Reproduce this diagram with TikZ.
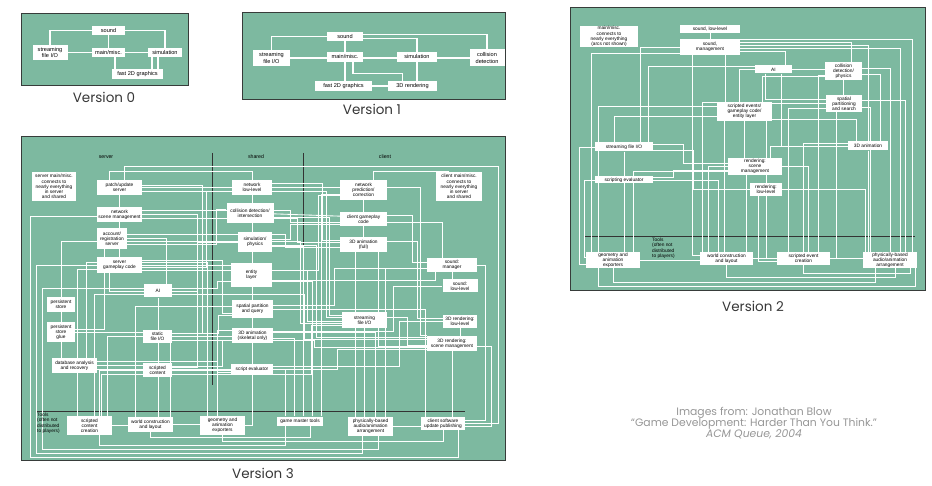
\documentclass[tikz,border=0pt]{standalone}
\usepackage{fontspec}
\setmainfont{Poppins}
\newfontfamily\boxfam{Liberation Sans}
\usetikzlibrary{positioning}

\definecolor{panelgreen}{RGB}{125,185,160}
\definecolor{panelrim}{RGB}{55,60,58}
\definecolor{captiongray}{RGB}{55,55,55}
\definecolor{creditgray}{RGB}{150,150,150}

\pgfdeclarelayer{back}
\pgfdeclarelayer{wires}
\pgfsetlayers{back,wires,main}

\tikzset{
    panel/.style={draw=panelrim, fill=panelgreen, line width=0.9pt},
    box/.style={fill=white, inner sep=0.3pt, align=center, font=\boxfam\fontsize{4.8}{5.2}\selectfont},
    bigbox/.style={box, font=\boxfam\fontsize{5.6}{6.3}\selectfont},
    sz/.style 2 args={minimum width=#1, minimum height=#2},
    wire/.style={draw=white, line width=0.85pt},
    thickwire/.style={draw=white, line width=1.1pt},
    divider/.style={draw=black!80, line width=0.7pt},
    colhead/.style={font=\boxfam\fontsize{5.2}{6}\selectfont},
    toolsnote/.style={anchor=north west, align=left, inner sep=0pt, font=\boxfam\fontsize{4.8}{5.2}\selectfont},
    caption/.style={font=\fontsize{13.5}{15}\selectfont, text=captiongray},
    credit/.style={font=\fontsize{10.8}{12}\selectfont, text=creditgray},
}

\begin{document}
\begin{tikzpicture}[x=1pt, y=-1pt]
\useasboundingbox (0,0) rectangle (932,486);

% panels
\begin{pgfonlayer}{back}
\draw[panel] (21,13) rectangle (188,85);
\draw[panel] (242,12) rectangle (505,99);
\draw[panel] (570,7) rectangle (925,290);
\draw[panel] (21,136) rectangle (505,460);
\draw[divider] (585,236) -- (915,236);
\draw[divider] (212,153) -- (212,385);
\draw[divider] (303,153) -- (303,385);
\draw[divider] (37,411) -- (465,411);
\end{pgfonlayer}

% version 0
\node[bigbox, sz={33}{9}] (v0snd) at (108.5,30.5) {sound};
\node[bigbox, sz={35}{15}] (v0str) at (50,52.5) {streaming\\file I/O};
\node[bigbox, sz={33}{9}] (v0main) at (108.5,52.5) {main/misc.};
\node[bigbox, sz={34}{9}] (v0sim) at (165,52.5) {simulation};
\node[bigbox, sz={51}{10}] (v0gfx) at (137.5,74) {fast 2D graphics};

% version 1
\node[bigbox, sz={36}{9}] (v1snd) at (345,36.5) {sound};
\node[bigbox, sz={37}{16}] (v1str) at (271.5,58) {streaming\\file I/O};
\node[bigbox, sz={36}{10}] (v1main) at (345,57) {main/misc.};
\node[bigbox, sz={40}{10}] (v1sim) at (417,57) {simulation};
\node[bigbox, sz={35}{17}] (v1col) at (487,58) {collision\\detection};
\node[bigbox, sz={57}{10}] (v1gfx) at (343.5,86) {fast 2D graphics};
\node[bigbox, sz={49}{10}] (v1ren) at (412.5,86) {3D rendering};

% version 2
\node[box, sz={58}{21}] (v2note) at (609,36.5) {main/misc.\\connects to\\nearly everything\\(arcs not shown)};
\node[box, sz={60}{8}] (v2sndll) at (710,29) {sound, low-level};
\node[box, sz={60}{16}] (v2sndmg) at (710,47) {sound,\\management};
\node[box, sz={37}{8}] (v2ai) at (773.5,69.5) {AI};
\node[box, sz={37}{18}] (v2col) at (843.5,71) {collision\\detection/\\physics};
\node[box, sz={36}{17}] (v2spat) at (844,103.5) {spatial\\partitioning\\and search};
\node[box, sz={55}{19}] (v2ent) at (744.5,111.5) {scripted events/\\gameplay code/\\entity layer};
\node[box, sz={58}{9}] (v2str) at (624,147) {streaming file I/O};
\node[box, sz={40}{9}] (v2anim) at (868,146) {3D animation};
\node[box, sz={54}{17}] (v2rsc) at (755,166.5) {rendering:\\scene\\management};
\node[box, sz={32}{13}] (v2rll) at (766,189.5) {rendering:\\low-level};
\node[box, sz={58}{7}] (v2scr) at (624,180) {scripting evaluator};
\node[box, sz={54}{16}] (v2geo) at (613,260) {geometry and\\animation\\exporters};
\node[box, sz={53}{13}] (v2wld) at (726.5,258.5) {world construction\\and layout};
\node[box, sz={53}{13}] (v2sev) at (803.5,258.5) {scripted event\\creation};
\node[box, sz={54}{16}] (v2phy) at (890,260) {physically-based\\audio/animation\\arrangement};
\node[toolsnote] (v2tools) at (652,238) {Tools\\(often not\\distributed\\to players)};

% version 3
\node[colhead] (s3hserv) at (106,157) {server};
\node[colhead] (s3hshar) at (256,157) {shared};
\node[colhead] (s3hcli) at (385,157) {client};
\node[box, sz={44}{29}] (s3smain) at (54,186.5) {server main/misc.\\connects to\\nearly everything\\in server\\and shared};
\node[box, sz={45}{15}] (s3patch) at (119.5,187.5) {patch/update\\server};
\node[box, sz={45}{15}] (s3nsm) at (119.5,214.5) {network\\scene management};
\node[box, sz={30}{21}] (s3acct) at (112,238.5) {account/\\registration\\server};
\node[box, sz={45}{16}] (s3sgp) at (119.5,265) {server\\gameplay code};
\node[box, sz={28}{13}] (s3ai) at (158,291) {AI};
\node[box, sz={28}{15}] (s3ps) at (61,304.5) {persistent\\store};
\node[box, sz={28}{20}] (s3psg) at (61,332) {persistent\\store\\glue};
\node[box, sz={45}{15}] (s3db) at (74.5,365.5) {database analysis\\and recovery};
\node[box, sz={29}{13}] (s3sfio) at (157.5,336.5) {static\\file I/O};
\node[box, sz={29}{14}] (s3sc) at (157.5,370) {scripted\\content};
\node[box, sz={40}{15}] (s3netll) at (252,187.5) {network\\low-level};
\node[box, sz={47}{20}] (s3col) at (250,213) {collision detection/\\intersection};
\node[box, sz={34}{20}] (s3sim) at (255,242) {simulation/\\physics};
\node[box, sz={41}{24}] (s3ent) at (251.5,275) {entity\\layer};
\node[box, sz={41}{18}] (s3spat) at (252.5,309) {spatial partition\\and query};
\node[box, sz={41}{15}] (s3skel) at (252.5,335.5) {3D animation\\(skeletal only)};
\node[box, sz={42}{10}] (s3seval) at (252,369) {script evaluator};
\node[box, sz={47}{20}] (s3npred) at (363.5,190) {network\\prediction/\\correction};
\node[box, sz={47}{14}] (s3cgp) at (363.5,219) {client gameplay\\code};
\node[box, sz={47}{15}] (s3anim) at (363.5,244.5) {3D animation\\(full)};
\node[box, sz={46}{29}] (s3cmain) at (459,186.5) {client main/misc.\\connects to\\nearly everything\\in server\\and shared};
\node[box, sz={50}{14}] (s3sndm) at (452,265) {sound:\\manager};
\node[box, sz={35}{13}] (s3sndl) at (460,286) {sound:\\low-level};
\node[box, sz={45}{16}] (s3str) at (364.5,320) {streaming\\file I/O};
\node[box, sz={34}{13}] (s3rll) at (460,321.5) {3D rendering:\\low-level};
\node[box, sz={50}{15}] (s3rsc) at (452,343.5) {3D rendering:\\scene management};
\node[box, sz={45}{19}] (s3scc) at (89.5,425.5) {scripted\\content\\creation};
\node[box, sz={45}{15}] (s3wcl) at (150.5,424.5) {world construction\\and layout};
\node[box, sz={45}{19}] (s3geo) at (222.5,425.5) {geometry and\\animation\\exporters};
\node[box, sz={46}{9}] (s3gmt) at (300,421) {game master tools};
\node[box, sz={45}{19}] (s3phy) at (370.5,426.5) {physically-based\\audio/animation\\arrangement};
\node[box, sz={44}{13}] (s3pub) at (443,423.5) {client software\\update publishing};
\node[toolsnote] (s3tools) at (37,413) {Tools\\(often not\\distributed\\to players)};

% captions
\node[caption] (cap0) at (104,97) {Version 0};
\node[caption] (cap1) at (372,109) {Version 1};
\node[caption] (cap2) at (753,306) {Version 2};
\node[caption] (cap3) at (263,473) {Version 3};
\node[credit] (cred1) at (754,413) {Images from: Jonathan Blow};
\node[credit] (cred2) at (754,423.5) {“Game Development: Harder Than You Think.”};
\node[credit, font=\itshape\fontsize{10.8}{12}\selectfont] (cred3) at (754,434) {ACM Queue, 2004};

\begin{pgfonlayer}{wires}
% version 0
\draw[thickwire] (v0snd.west) -| (v0str.north);
\draw[thickwire] (v0snd.east) -| (v0sim.north);
\draw[thickwire] (v0snd) -- (v0main);
\draw[thickwire] (v0str) -- (v0main) -- (v0sim);
\draw[thickwire] ([xshift=6.5]v0main.south) -- ([xshift=6.5]v0main.south |- v0gfx.north);
\foreach \s in {-7,-13}
    \draw[thickwire] ([xshift=\s]v0sim.south) -- ([xshift=\s]v0sim.south |- v0gfx.north);

% version 1
\draw[thickwire] (v1snd.west) -| (v1str.north);
\draw[thickwire] ([yshift=2]v1snd.east) -| (v1col.north);
\draw[thickwire] ([yshift=-2]v1snd.east) -| (v1sim.north);
\draw[thickwire] (v1snd) -- (v1snd |- v1gfx);
\draw[thickwire] (v1str) -- (v1str -| v1col);
\draw[thickwire] ([xshift=8]v1main.south) -- ++(0,11) -| ([xshift=-10]v1ren.north);
\draw[thickwire] (v1sim) -- (v1sim |- v1ren);
\draw[thickwire] (v1gfx) -- (v1ren);

% version 2
\draw[wire] (v2sndll) -- (v2sndmg);
\draw[wire] ([xshift=15]v2sndmg.south) -- ([xshift=15]v2sndmg.south |- v2ent.north);
\draw[wire] ([xshift=-20]v2ent.south) -- ([xshift=-20]v2ent.south |- v2wld.north);
\draw[wire] (v2ent) -- (v2ent |- v2rsc);
\draw[wire] (v2rll) -- (v2rll |- v2rsc);
\draw[wire] (v2col) -- (v2col |- v2spat);
\draw[wire] (v2str) -- (v2str |- v2geo);
\draw[wire] (v2anim) -- (v2anim |- v2phy);
\draw[wire] ([xshift=20]v2wld.north) -- ([xshift=20]v2wld.north |- v2rsc.south);
\draw[wire] (v2ai) -- (v2ai -| v2col);
\draw[wire] (v2spat) -- (v2spat -| v2ent);
\draw[wire] (v2geo) -- (v2geo -| v2wld);
\draw[wire] (v2wld) -- (v2sev) -- (v2sev -| v2phy);
\foreach \a/\an/\sa/\b/\bn/\sb in {
    v2sndmg/east/5/v2col/north/8, v2sndmg/east/2/v2anim/north/0,
    v2sndmg/east/-1/v2phy/north/10, v2sndmg/east/-4/v2ai/north/12,
    v2sndmg/east/8/v2phy/north/22, v2sndmg/west/0/v2str/north/16,
    v2sndmg/west/-6/v2geo/north/-22, v2ai/west/0/v2ent/north/-5,
    v2ai/west/3/v2str/north/24, v2ent/west/5/v2geo/north/-15,
    v2ent/west/-5/v2str/north/-10, v2ent/west/9/v2wld/north/-24,
    v2ent/east/-8/v2anim/north/-12, v2col/west/-5/v2ent/north/18,
    v2col/east/3/v2phy/north/0, v2col/east/-3/v2anim/north/12,
    v2spat/east/3/v2phy/north/15, v2anim/west/0/v2rsc/north/15,
    v2rsc/west/0/v2wld/north/-18, v2scr/east/0/v2wld/north/-8}
    \draw[wire] ([yshift=\sa]\a.\an) -| ([xshift=\sb]\b.\bn);
\foreach \a/\an/\sa/\b/\bn/\sb in {
    v2ai/south/-8/v2spat/west/4, v2ai/south/8/v2anim/west/0,
    v2sndmg/south/-18/v2wld/west/3, v2ent/south/22/v2sev/west/0,
    v2spat/south/-8/v2sev/east/0, v2rll/south/-8/v2sev/west/-3,
    v2sev/north/-15/v2spat/west/-5, v2sev/north/15/v2col/west/-4,
    v2sev/north/0/v2anim/west/3, v2sev/north/5/v2rsc/east/0,
    v2geo/north/20/v2rsc/west/-5, v2phy/north/-25/v2rll/east/0,
    v2phy/north/-20/v2spat/east/-4}
    \draw[wire] ([xshift=\sa]\a.\an) |- ([yshift=\sb]\b.\bn);
\foreach \a/\an/\sa/\dy/\b/\bn/\sb in {
    v2geo/south/0/14/v2phy/south/-15, v2wld/south/0/12/v2phy/south/5,
    v2sev/south/0/8/v2phy/south/20, v2geo/south/-15/18/v2phy/south/25}
    \draw[wire] ([xshift=\sa]\a.\an) -- ++(0,\dy) -| ([xshift=\sb]\b.\bn);
\foreach \a/\an/\sa/\dx/\b/\bn/\sb in {
    v2str/east/3/30/v2rsc/west/3, v2str/east/-3/40/v2rll/west/0,
    v2scr/east/3/20/v2rsc/west/-4, v2str/west/0/-15/v2geo/west/-4,
    v2scr/west/0/-10/v2geo/west/3}
    \draw[wire] ([yshift=\sa]\a.\an) -- ++(\dx,0) |- ([yshift=\sb]\b.\bn);

% version 3
\draw[wire] (s3netll) -- (s3netll |- s3seval);
\draw[wire] (s3npred) -- (s3anim);
\draw[wire] (s3ps) -- (s3ps |- s3db);
\draw[wire] (s3ai) -- (s3ai |- s3wcl);
\draw[wire] (s3patch) -- (s3patch |- s3sgp);
\draw[wire] (s3sndm) -- (s3sndm |- s3sndl);
\draw[wire] (s3rll) -- (s3rll |- s3rsc);
\draw[wire] (s3rsc) -- (s3rsc |- s3pub);
\draw[wire] (s3str) -- (s3str |- s3phy);
\draw[wire] ([xshift=-15]s3phy.north) -- ([xshift=-15]s3phy.north |- s3anim.south);
\draw[wire] (s3patch) -- (s3patch -| s3netll);
\draw[wire] (s3netll) -- (s3netll -| s3npred);
\draw[wire] ([yshift=-4]s3col) -- ([yshift=-4]s3col -| s3cgp);
\draw[wire] (s3sgp) -- (s3sgp -| s3ent);
\draw[wire] (s3sfio) -- (s3sfio -| s3skel);
\draw[wire] (s3sc) -- (s3sc -| s3seval);
\draw[wire] (s3psg) -- (s3psg -| s3sfio);
\draw[wire] (s3db) -- (s3db -| s3sc);
\draw[wire] (s3scc) -- (s3scc -| s3wcl);
\draw[wire] (s3wcl) -- (s3wcl -| s3geo);
\draw[wire] (s3phy) -- (s3phy -| s3pub);
\foreach \a/\an/\sa/\b/\bn/\sb in {
    s3cgp/east/-3/s3sndm/north/-10, s3acct/west/-3/s3ps/north/0,
    s3sgp/west/3/s3db/north/12, s3psg/east/3/s3acct/south/-8,
    s3sc/west/0/s3scc/north/10, s3sfio/west/0/s3scc/north/18,
    s3ent/east/-5/s3sndm/south/-17, s3acct/east/0/s3ai/north/8}
    \draw[wire] ([yshift=\sa]\a.\an) -| ([xshift=\sb]\b.\bn);
\foreach \a/\an/\sa/\b/\bn/\sb in {
    s3sgp/south/-10/s3ai/west/0, s3seval/south/0/s3geo/east/0,
    s3anim/south/15/s3rsc/west/-3, s3scc/north/-12/s3sgp/west/-4,
    s3scc/north/5/s3ai/west/-3, s3scc/north/12/s3sc/west/-4,
    s3wcl/north/-15/s3spat/west/3, s3wcl/north/20/s3skel/west/-5,
    s3geo/north/-15/s3sgp/east/3, s3geo/north/-5/s3skel/west/5,
    s3gmt/north/-15/s3seval/east/0, s3gmt/north/-6/s3skel/east/-3,
    s3gmt/north/3/s3sim/east/-4, s3gmt/north/12/s3ent/east/-6,
    s3gmt/north/21/s3npred/west/-4, s3phy/north/15/s3sndm/west/-3,
    s3phy/north/5/s3skel/east/3, s3pub/north/-18/s3spat/east/0}
    \draw[wire] ([xshift=\sa]\a.\an) |- ([yshift=\sb]\b.\bn);
\foreach \a/\an/\sa/\dy/\b/\bn/\sb in {
    s3npred/north/10/-8/s3cmain/north/-10, s3patch/north/-10/-8/s3netll/north/0}
    \draw[wire] ([xshift=\sa]\a.\an) -- ++(0,\dy) -| ([xshift=\sb]\b.\bn);
\foreach \a/\an/\sa/\dx/\b/\bn/\sb in {
    s3nsm/east/4/148/s3cgp/west/-3, s3nsm/east/-4/155/s3anim/west/2,
    s3patch/east/-4/184/s3str/west/3, s3acct/east/4/158/s3anim/west/-3,
    s3acct/east/-3/173/s3str/west/-3, s3sgp/east/5/80/s3spat/west/-4,
    s3sgp/east/-5/165/s3str/west/-1, s3ai/east/3/45/s3ent/west/-6,
    s3ai/east/-3/132/s3rsc/west/4, s3sfio/east/3/46/s3spat/west/-6,
    s3sfio/east/-4/142/s3rsc/west/-4, s3sc/east/4/50/s3skel/west/-5,
    s3sc/east/-4/139/s3str/west/-5, s3db/east/4/120/s3seval/west/-3,
    s3db/east/-4/240/s3rsc/west/-6, s3netll/east/4/50/s3anim/west/4,
    s3col/east/-4/56/s3str/west/5, s3sim/east/3/18/s3cgp/west/-5,
    s3sim/east/-3/44/s3rsc/west/6, s3ent/east/5/46/s3npred/west/-5,
    s3spat/east/4/61/s3sndm/west/-3, s3skel/east/4/120/s3sndl/west/0,
    s3seval/east/3/126/s3rll/west/0, s3cgp/east/4/25/s3sndm/west/3,
    s3anim/east/3/30/s3rll/west/3, s3npred/east/3/33/s3rsc/west/8,
    s3str/east/3/20/s3rsc/west/-2, s3sndm/east/0/8/s3pub/east/3,
    s3rsc/east/-3/14/s3pub/east/-3, s3netll/west/-4/-25/s3sgp/east/-2,
    s3col/west/4/-10/s3acct/east/-6, s3sim/west/0/-40/s3ai/east/0,
    s3patch/east/2/60/s3sfio/east/3, s3nsm/east/0/55/s3sc/east/3}
    \draw[wire] ([yshift=\sa]\a.\an) -- ++(\dx,0) |- ([yshift=\sb]\b.\bn);
\draw[wire] ([xshift=5]s3patch.north) |- (498,166) |- (s3pub.east);
\draw[wire] ([yshift=-2]s3nsm.west) -| (30,457) -| ([xshift=15]s3pub.south);
\draw[wire] (s3sgp.west) -| (36,453) -| ([xshift=-8]s3phy.south);
\draw[wire] ([yshift=3]s3ai.west) -| (42,449) -| ([xshift=8]s3phy.south);
\draw[wire] ([xshift=10]s3scc.south) -- ++(0,10) -| ([xshift=-15]s3gmt.south);
\draw[wire] (s3geo.south) -- ++(0,6) -| (s3pub.south);
\draw[wire] (s3wcl.south) -- ++(0,5) -| ([xshift=10]s3gmt.south);
\end{pgfonlayer}
\end{tikzpicture}
\end{document}
